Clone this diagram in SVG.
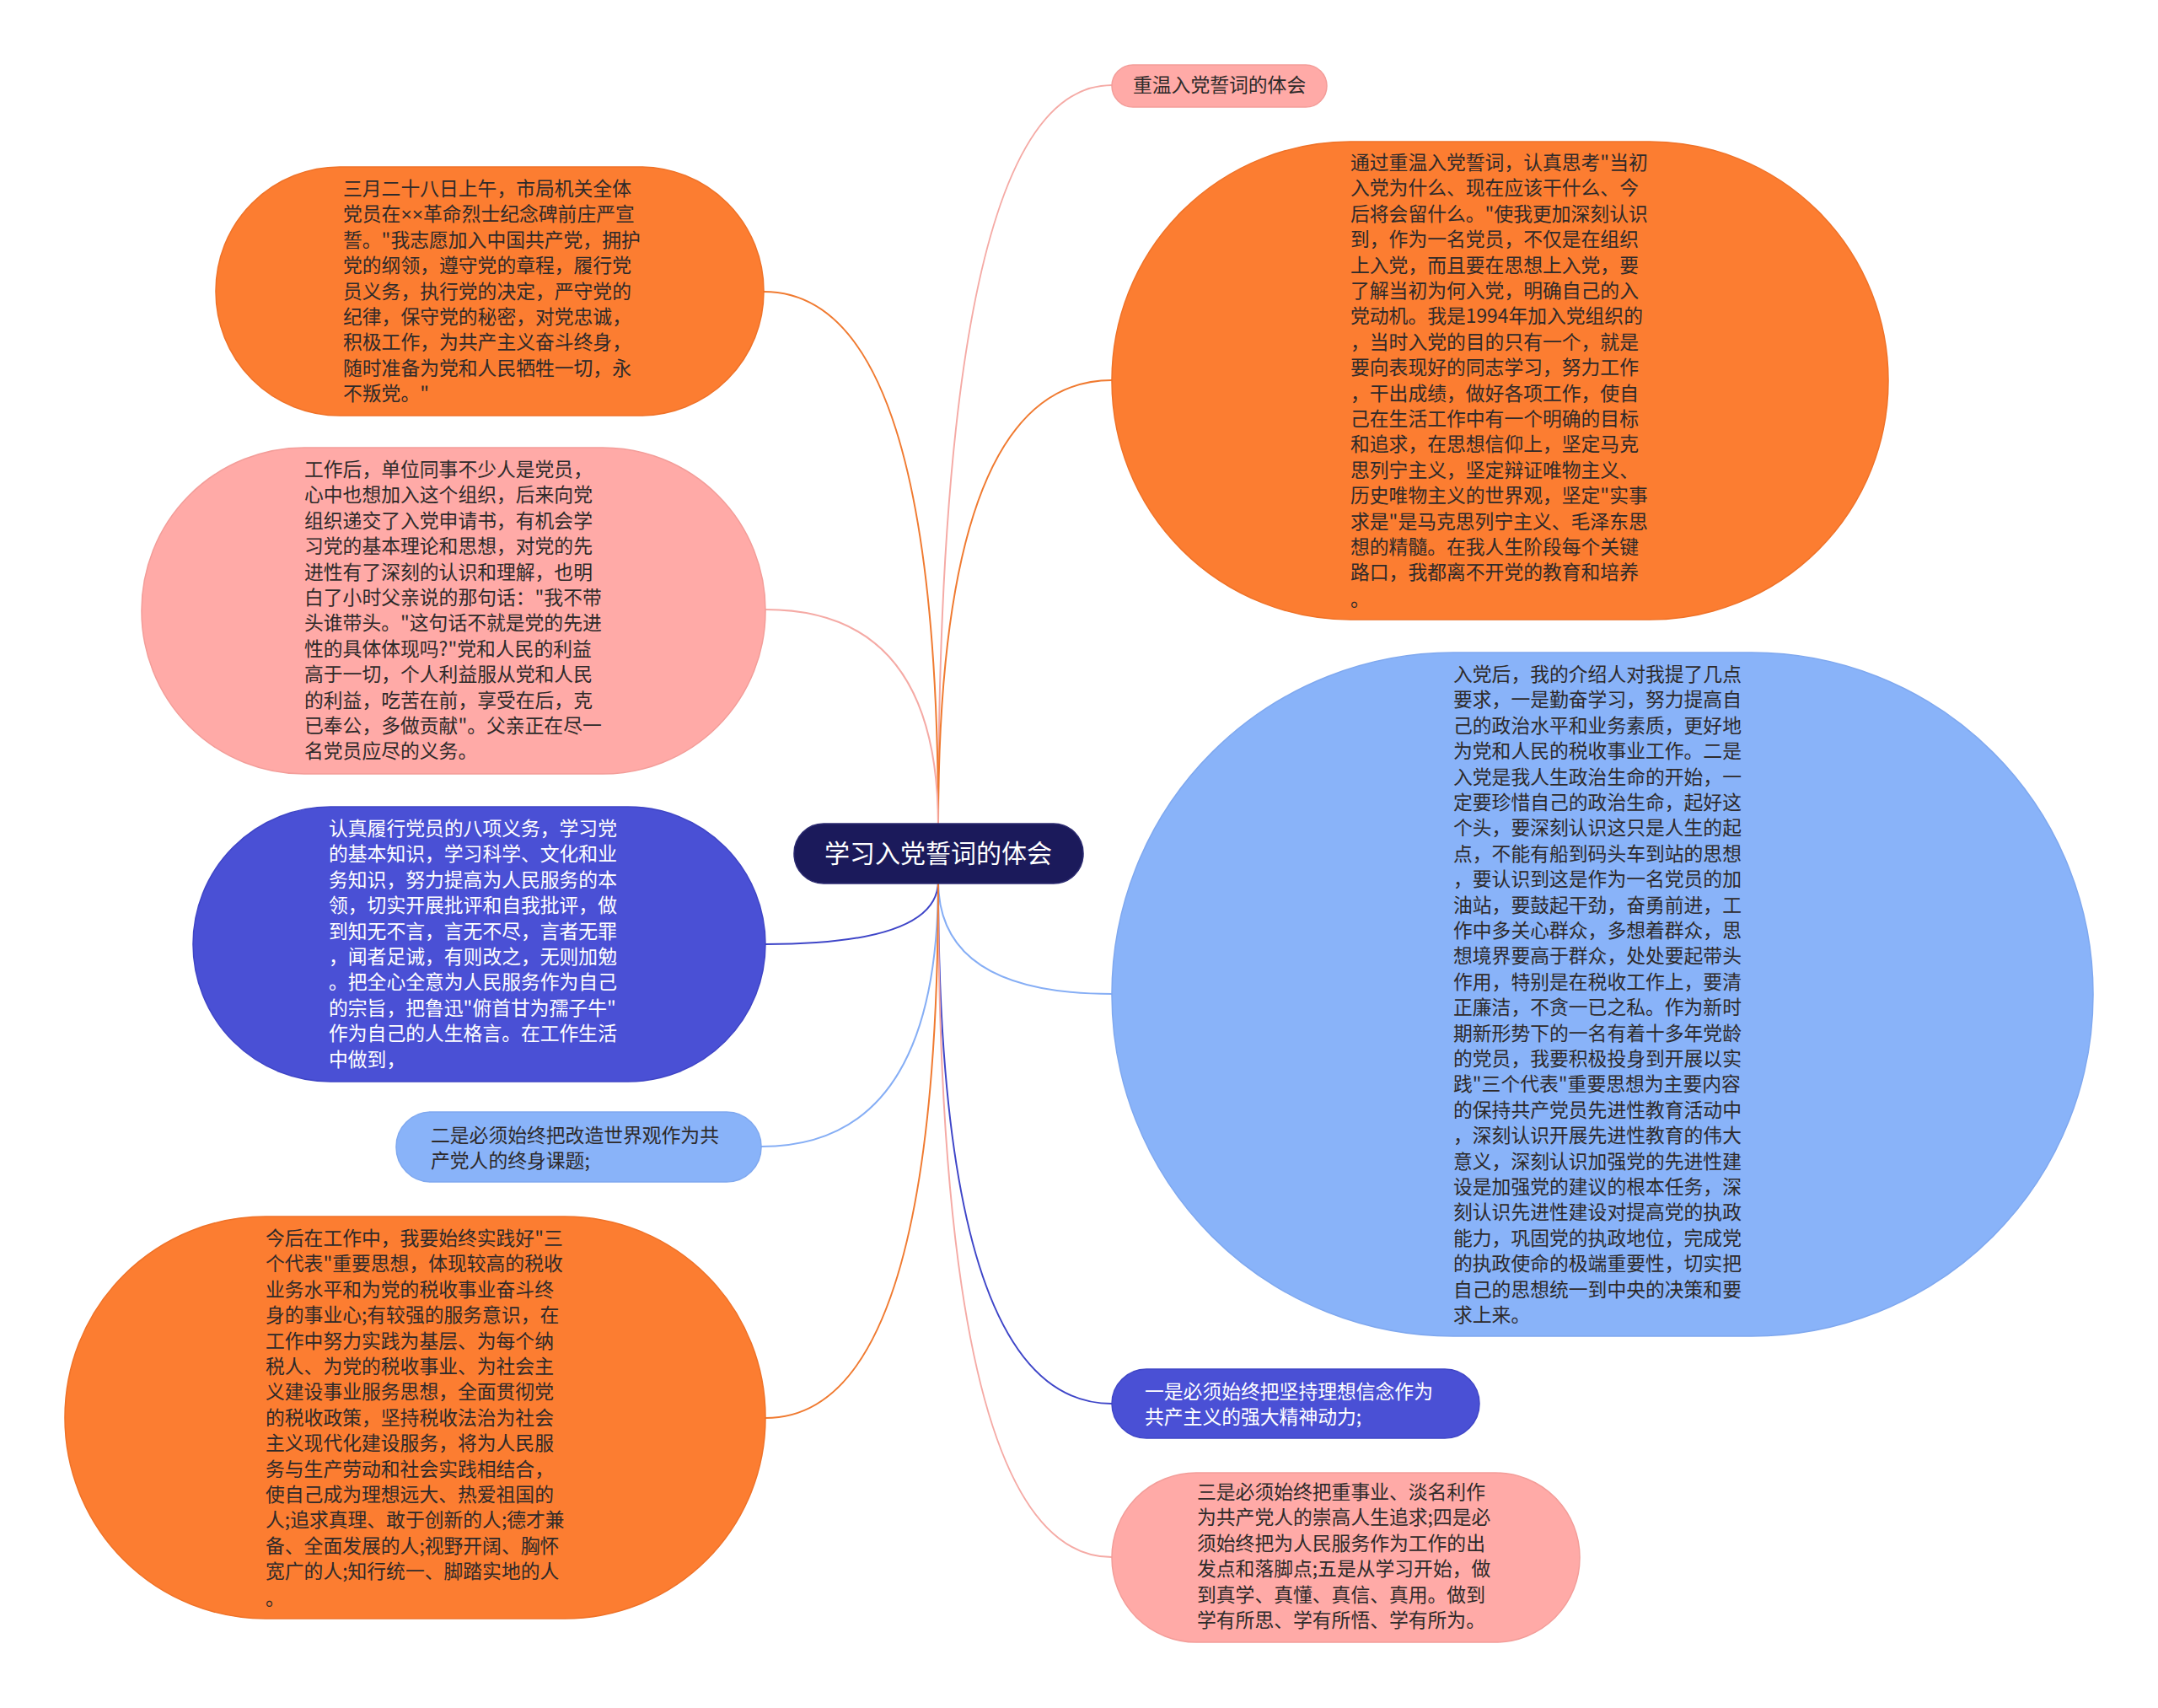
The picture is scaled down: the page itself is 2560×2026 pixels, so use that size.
<svg xmlns="http://www.w3.org/2000/svg" width="2560" height="2026" viewBox="0 0 2560 2026">
<style>
.t{font-family:"Noto Sans CJK SC","Noto Sans",sans-serif;font-size:22.8px;fill:#2e2a2a}
.w{fill:#ffffff}
.c{font-family:"Noto Sans CJK SC","Noto Sans",sans-serif;font-size:30px;fill:#ffffff;text-anchor:middle}
.x{font-family:"Liberation Sans",sans-serif}
.or{fill:#fc7d31;stroke:#ef7228;stroke-width:1.5}
.pk{fill:#ffaaa7;stroke:#f39d99;stroke-width:1.5}
.lb{fill:#89b3f9;stroke:#7fa8ef;stroke-width:1.5}
.ib{fill:#4a50d5;stroke:#3f45c6;stroke-width:1.5}
.l{fill:none;stroke-width:2}
</style>
<rect width="2560" height="2026" fill="#ffffff"/>
<g id="connectors">
<path class="l" stroke="#f5aaa5" d="M1113,980 Q1113,101 1319,101"/>
<path class="l" stroke="#f07a30" d="M1113,980 Q1113,451 1319,451"/>
<path class="l" stroke="#f07a30" d="M1113,980 Q1113,346 906,346"/>
<path class="l" stroke="#f5aaa5" d="M1113,980 Q1113,723 908,723"/>
<path class="l" stroke="#86aef5" d="M1113,1045 Q1113,1179 1319,1179"/>
<path class="l" stroke="#3e45c8" d="M1113,1045 Q1113,1665 1319,1665"/>
<path class="l" stroke="#f5aaa5" d="M1113,1045 Q1113,1847 1319,1847"/>
<path class="l" stroke="#3e45c8" d="M1113,1045 Q1113,1120 908,1120"/>
<path class="l" stroke="#86aef5" d="M1113,1045 Q1113,1360 903,1360"/>
<path class="l" stroke="#f07a30" d="M1113,1045 Q1113,1682 908,1682"/>
</g>
<g id="center">
<rect x="942" y="977" width="343" height="71" rx="35" fill="#1b1a5b" stroke="#2b2a70" stroke-width="1.5"/>
<text class="c" x="1113" y="1023">学习入党誓词的体会</text>
</g>
<g id="nodeA">
<rect class="pk" x="1319" y="77" width="255" height="50" rx="25"/>
<text class="t" x="1344" y="109">重温入党誓词的体会</text>
</g>
<g id="nodeB">
<rect class="or" x="1319" y="168" width="921" height="567" rx="283"/>
<text class="t"><tspan x="1602" y="201">通过重温入党誓词，认真思考"当初</tspan><tspan x="1602" y="231.4">入党为什么、现在应该干什么、今</tspan><tspan x="1602" y="261.8">后将会留什么。"使我更加深刻认识</tspan><tspan x="1602" y="292.2">到，作为一名党员，不仅是在组织</tspan><tspan x="1602" y="322.6">上入党，而且要在思想上入党，要</tspan><tspan x="1602" y="353">了解当初为何入党，明确自己的入</tspan><tspan x="1602" y="383.4">党动机。我是1994年加入党组织的</tspan><tspan x="1602" y="413.8">，当时入党的目的只有一个，就是</tspan><tspan x="1602" y="444.2">要向表现好的同志学习，努力工作</tspan><tspan x="1602" y="474.6">，干出成绩，做好各项工作，使自</tspan><tspan x="1602" y="505">己在生活工作中有一个明确的目标</tspan><tspan x="1602" y="535.4">和追求，在思想信仰上，坚定马克</tspan><tspan x="1602" y="565.8">思列宁主义，坚定辩证唯物主义、</tspan><tspan x="1602" y="596.2">历史唯物主义的世界观，坚定"实事</tspan><tspan x="1602" y="626.6">求是"是马克思列宁主义、毛泽东思</tspan><tspan x="1602" y="657">想的精髓。在我人生阶段每个关键</tspan><tspan x="1602" y="687.4">路口，我都离不开党的教育和培养</tspan><tspan x="1602" y="719">。</tspan></text>
</g>
<g id="nodeC">
<rect class="lb" x="1319" y="774" width="1164" height="811" rx="405"/>
<text class="t"><tspan x="1724" y="808">入党后，我的介绍人对我提了几点</tspan><tspan x="1724" y="838.4">要求，一是勤奋学习，努力提高自</tspan><tspan x="1724" y="868.8">己的政治水平和业务素质，更好地</tspan><tspan x="1724" y="899.2">为党和人民的税收事业工作。二是</tspan><tspan x="1724" y="929.6">入党是我人生政治生命的开始，一</tspan><tspan x="1724" y="960">定要珍惜自己的政治生命，起好这</tspan><tspan x="1724" y="990.4">个头，要深刻认识这只是人生的起</tspan><tspan x="1724" y="1020.8">点，不能有船到码头车到站的思想</tspan><tspan x="1724" y="1051.2">，要认识到这是作为一名党员的加</tspan><tspan x="1724" y="1081.6">油站，要鼓起干劲，奋勇前进，工</tspan><tspan x="1724" y="1112">作中多关心群众，多想着群众，思</tspan><tspan x="1724" y="1142.4">想境界要高于群众，处处要起带头</tspan><tspan x="1724" y="1172.8">作用，特别是在税收工作上，要清</tspan><tspan x="1724" y="1203.2">正廉洁，不贪一已之私。作为新时</tspan><tspan x="1724" y="1233.6">期新形势下的一名有着十多年党龄</tspan><tspan x="1724" y="1264">的党员，我要积极投身到开展以实</tspan><tspan x="1724" y="1294.4">践"三个代表"重要思想为主要内容</tspan><tspan x="1724" y="1324.8">的保持共产党员先进性教育活动中</tspan><tspan x="1724" y="1355.2">，深刻认识开展先进性教育的伟大</tspan><tspan x="1724" y="1385.6">意义，深刻认识加强党的先进性建</tspan><tspan x="1724" y="1416">设是加强党的建议的根本任务，深</tspan><tspan x="1724" y="1446.4">刻认识先进性建设对提高党的执政</tspan><tspan x="1724" y="1476.8">能力，巩固党的执政地位，完成党</tspan><tspan x="1724" y="1507.2">的执政使命的极端重要性，切实把</tspan><tspan x="1724" y="1537.6">自己的思想统一到中央的决策和要</tspan><tspan x="1724" y="1568">求上来。</tspan></text>
</g>
<g id="nodeD">
<rect class="ib" x="1319" y="1624" width="436" height="82" rx="41"/>
<text class="t w"><tspan x="1358" y="1659">一是必须始终把坚持理想信念作为</tspan><tspan x="1358" y="1689.4">共产主义的强大精神动力;</tspan></text>
</g>
<g id="nodeE">
<rect class="pk" x="1319" y="1747" width="555" height="201" rx="100"/>
<text class="t"><tspan x="1420" y="1778">三是必须始终把重事业、淡名利作</tspan><tspan x="1420" y="1808.4">为共产党人的崇高人生追求;四是必</tspan><tspan x="1420" y="1838.8">须始终把为人民服务作为工作的出</tspan><tspan x="1420" y="1869.2">发点和落脚点;五是从学习开始，做</tspan><tspan x="1420" y="1899.6">到真学、真懂、真信、真用。做到</tspan><tspan x="1420" y="1930">学有所思、学有所悟、学有所为。</tspan></text>
</g>
<g id="nodeF">
<rect class="or" x="256" y="198" width="650" height="295" rx="147"/>
<text class="t"><tspan x="407" y="232">三月二十八日上午，市局机关全体</tspan><tspan x="407" y="262.4">党员在<tspan class="x">××</tspan>革命烈士纪念碑前庄严宣</tspan><tspan x="407" y="292.8">誓。"我志愿加入中国共产党，拥护</tspan><tspan x="407" y="323.2">党的纲领，遵守党的章程，履行党</tspan><tspan x="407" y="353.6">员义务，执行党的决定，严守党的</tspan><tspan x="407" y="384">纪律，保守党的秘密，对党忠诚，</tspan><tspan x="407" y="414.4">积极工作，为共产主义奋斗终身，</tspan><tspan x="407" y="444.8">随时准备为党和人民牺牲一切，永</tspan><tspan x="407" y="475.2">不叛党。"</tspan></text>
</g>
<g id="nodeG">
<rect class="pk" x="168" y="531" width="740" height="387" rx="193"/>
<text class="t"><tspan x="361" y="565">工作后，单位同事不少人是党员，</tspan><tspan x="361" y="595.4">心中也想加入这个组织，后来向党</tspan><tspan x="361" y="625.8">组织递交了入党申请书，有机会学</tspan><tspan x="361" y="656.2">习党的基本理论和思想，对党的先</tspan><tspan x="361" y="686.6">进性有了深刻的认识和理解，也明</tspan><tspan x="361" y="717">白了小时父亲说的那句话："我不带</tspan><tspan x="361" y="747.4">头谁带头。"这句话不就是党的先进</tspan><tspan x="361" y="777.8">性的具体体现吗?"党和人民的利益</tspan><tspan x="361" y="808.2">高于一切，个人利益服从党和人民</tspan><tspan x="361" y="838.6">的利益，吃苦在前，享受在后，克</tspan><tspan x="361" y="869">已奉公，多做贡献"。父亲正在尽一</tspan><tspan x="361" y="899.4">名党员应尽的义务。</tspan></text>
</g>
<g id="nodeH">
<rect class="ib" x="229" y="957" width="679" height="326" rx="163"/>
<text class="t w"><tspan x="390" y="991">认真履行党员的八项义务，学习党</tspan><tspan x="390" y="1021.4">的基本知识，学习科学、文化和业</tspan><tspan x="390" y="1051.8">务知识，努力提高为人民服务的本</tspan><tspan x="390" y="1082.2">领，切实开展批评和自我批评，做</tspan><tspan x="390" y="1112.6">到知无不言，言无不尽，言者无罪</tspan><tspan x="390" y="1143">，闻者足诫，有则改之，无则加勉</tspan><tspan x="390" y="1173.4">。把全心全意为人民服务作为自己</tspan><tspan x="390" y="1203.8">的宗旨，把鲁迅"俯首甘为孺子牛"</tspan><tspan x="390" y="1234.2">作为自己的人生格言。在工作生活</tspan><tspan x="390" y="1264.6">中做到，</tspan></text>
</g>
<g id="nodeI">
<rect class="lb" x="470" y="1319" width="433" height="83" rx="41"/>
<text class="t"><tspan x="511" y="1355">二是必须始终把改造世界观作为共</tspan><tspan x="511" y="1385.4">产党人的终身课题;</tspan></text>
</g>
<g id="nodeJ">
<rect class="or" x="77" y="1443" width="831" height="477" rx="238"/>
<text class="t"><tspan x="315" y="1477">今后在工作中，我要始终实践好"三</tspan><tspan x="315" y="1507.4">个代表"重要思想，体现较高的税收</tspan><tspan x="315" y="1537.8">业务水平和为党的税收事业奋斗终</tspan><tspan x="315" y="1568.2">身的事业心;有较强的服务意识，在</tspan><tspan x="315" y="1598.6">工作中努力实践为基层、为每个纳</tspan><tspan x="315" y="1629">税人、为党的税收事业、为社会主</tspan><tspan x="315" y="1659.4">义建设事业服务思想，全面贯彻党</tspan><tspan x="315" y="1689.8">的税收政策，坚持税收法治为社会</tspan><tspan x="315" y="1720.2">主义现代化建设服务，将为人民服</tspan><tspan x="315" y="1750.6">务与生产劳动和社会实践相结合，</tspan><tspan x="315" y="1781">使自己成为理想远大、热爱祖国的</tspan><tspan x="315" y="1811.4">人;追求真理、敢于创新的人;德才兼</tspan><tspan x="315" y="1841.8">备、全面发展的人;视野开阔、胸怀</tspan><tspan x="315" y="1872.2">宽广的人;知行统一、脚踏实地的人</tspan><tspan x="315" y="1904">。</tspan></text>
</g>
</svg>
